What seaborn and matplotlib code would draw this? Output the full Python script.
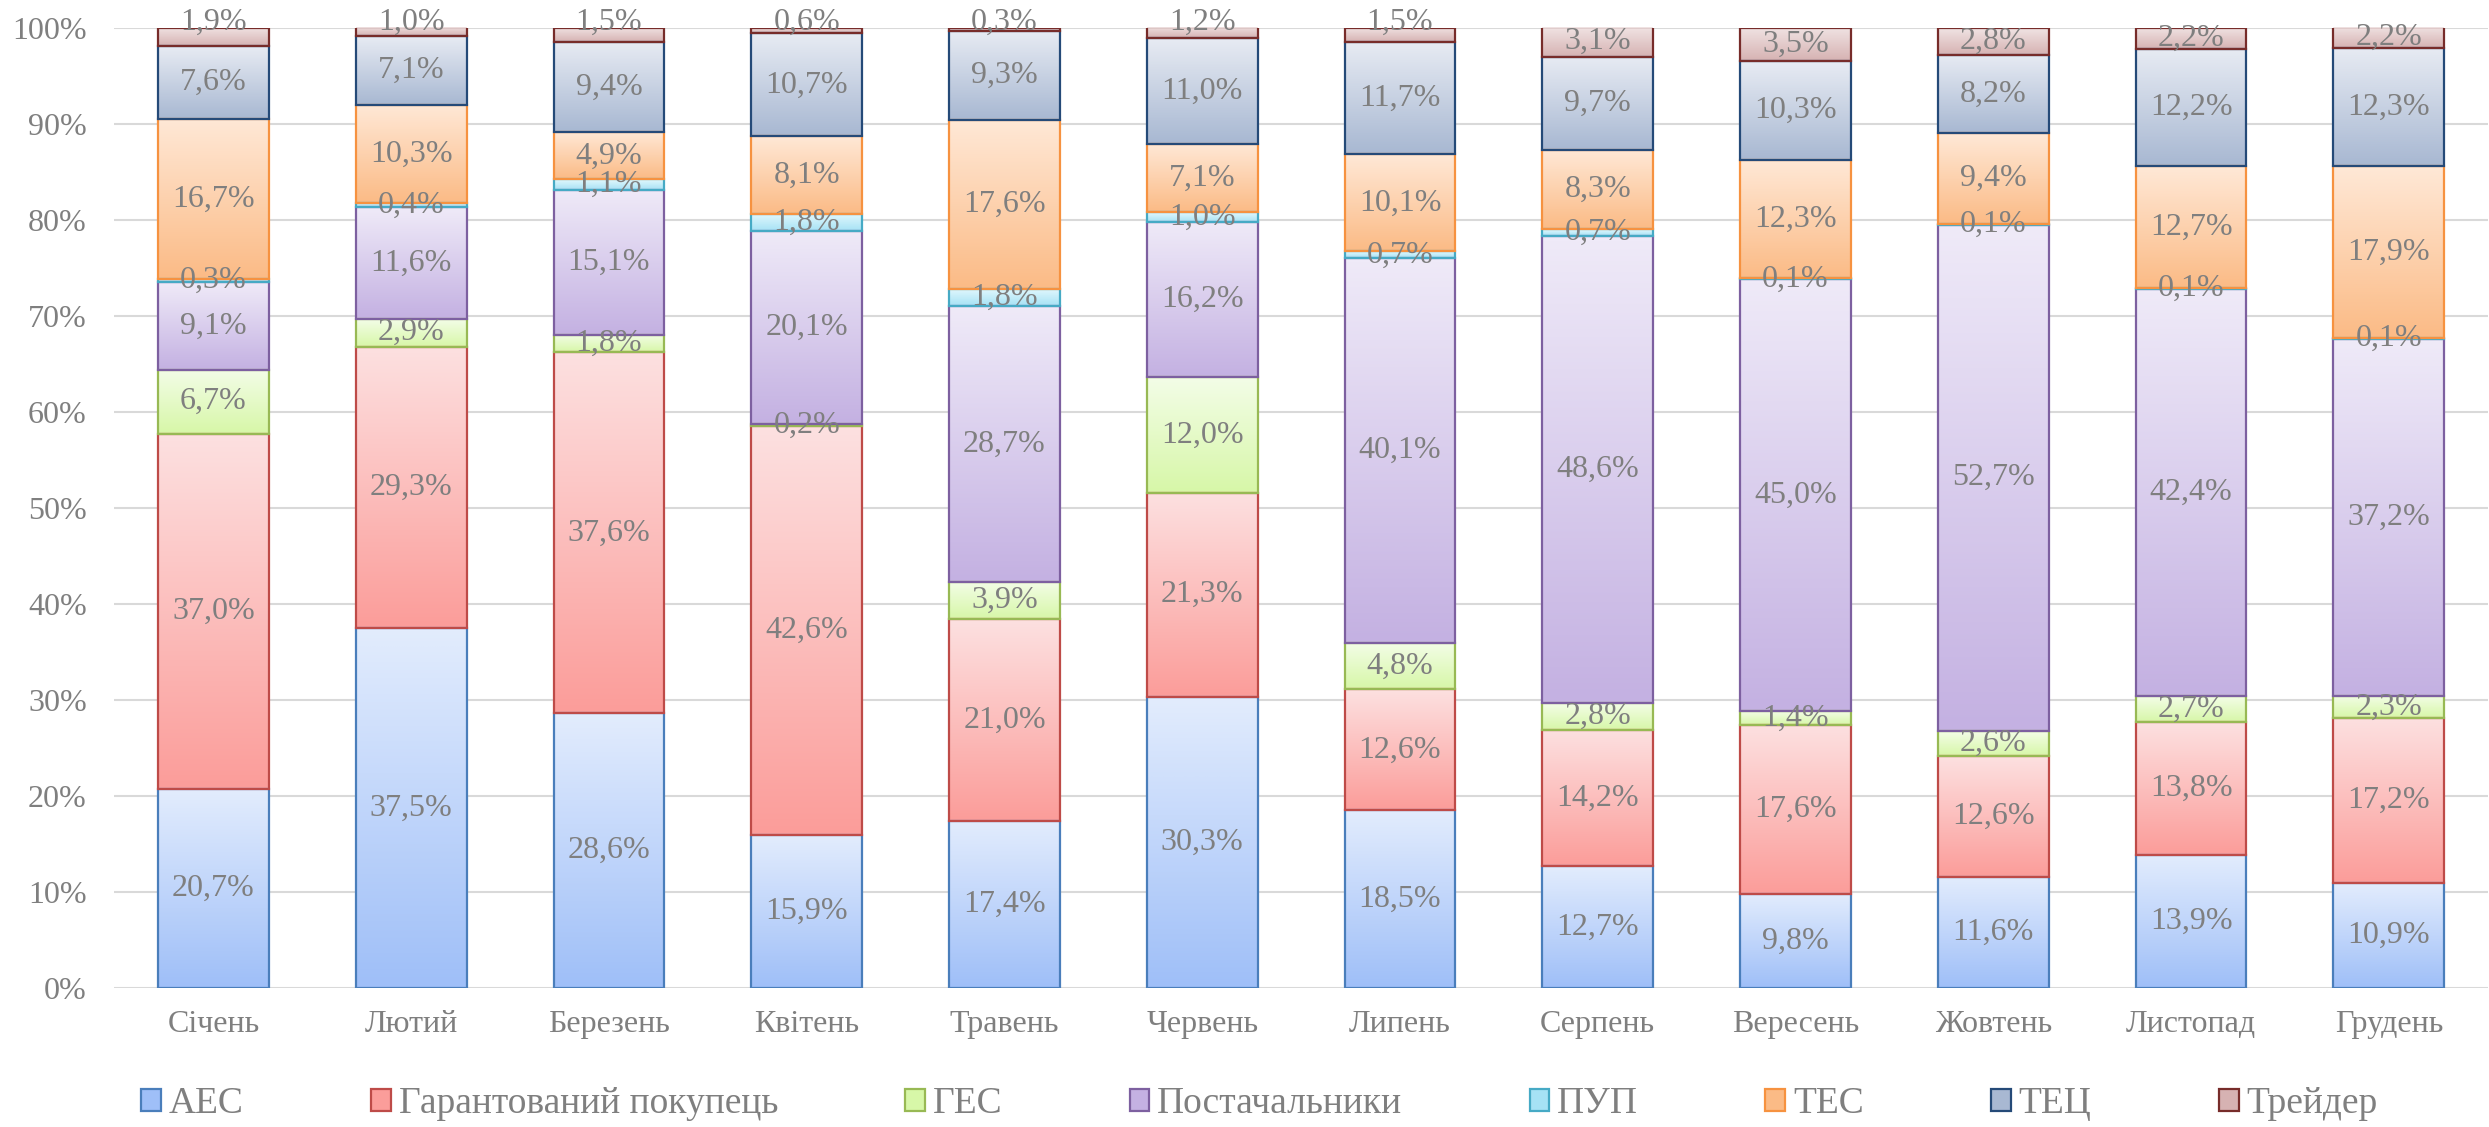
"""Monthly structure of electricity sales by seller type (stacked 100% bars)."""
import matplotlib
matplotlib.use('Agg')
import matplotlib.pyplot as plt
from matplotlib.colors import LinearSegmentedColormap
from matplotlib.patches import Patch
import numpy as np
import seaborn as sns

months = ['Січень', 'Лютий', 'Березень', 'Квітень', 'Травень', 'Червень',
          'Липень', 'Серпень', 'Вересень', 'Жовтень', 'Листопад', 'Грудень']
series_names = ['АЕС', 'Гарантований покупець', 'ГЕС', 'Постачальники',
                'ПУП', 'ТЕС', 'ТЕЦ', 'Трейдер']

aes = [20.7, 37.5, 28.6, 15.9, 17.4, 30.3, 18.5, 12.7, 9.8, 11.6, 13.9, 10.9]
gp = [37.0, 29.3, 37.6, 42.6, 21.0, 21.3, 12.6, 14.2, 17.6, 12.6, 13.8, 17.2]
ges = [6.7, 2.9, 1.8, 0.2, 3.9, 12.0, 4.8, 2.8, 1.4, 2.6, 2.7, 2.3]
postach = [9.1, 11.6, 15.1, 20.1, 28.7, 16.2, 40.1, 48.6, 45.0, 52.7, 42.4, 37.2]
pup = [0.3, 0.4, 1.1, 1.8, 1.8, 1.0, 0.7, 0.7, 0.1, 0.1, 0.1, 0.1]
tes = [16.7, 10.3, 4.9, 8.1, 17.6, 7.1, 10.1, 8.3, 12.3, 9.4, 12.7, 17.9]
tec = [7.6, 7.1, 9.4, 10.7, 9.3, 11.0, 11.7, 9.7, 10.3, 8.2, 12.2, 12.3]
trader = [1.9, 1.0, 1.5, 0.6, 0.3, 1.2, 1.5, 3.1, 3.5, 2.8, 2.2, 2.2]

# (top colour, bottom colour, edge colour) per series - Excel-like gradient fills
styles = [
    ('#e2ecfd', '#9fbff8', '#4a7ebb'),
    ('#fde0e0', '#fb9d9a', '#be4b48'),
    ('#f3fde7', '#d7f7a8', '#98b954'),
    ('#efeaf8', '#c4b1e2', '#7d60a0'),
    ('#e3f8fd', '#a6e2f5', '#46aac5'),
    ('#ffe8d6', '#fbbb86', '#f69240'),
    ('#e7ebf3', '#a8b8d2', '#254a78'),
    ('#f0e3e3', '#d6b2b2', '#772c2a'),
]

all_series = [aes, gp, ges, postach, pup, tes, tec, trader]

sns.set_theme(style='white')
plt.rcParams['font.family'] = ['Liberation Serif', 'DejaVu Serif']
text_color = '#7f7f7f'
fs = 23

fig = plt.figure(figsize=(24.89, 11.27), dpi=100)
ax = fig.add_axes([0.046, 0.1233, 0.9535, 0.8521])

bottom = np.zeros(len(months))
for vals, (top_c, bot_c, edge_c) in zip(all_series, styles):
    sns.barplot(x=months, y=vals, bottom=bottom.copy(), order=months,
                color=bot_c, edgecolor=edge_c, linewidth=1.6, width=0.56,
                errorbar=None, saturation=1, ax=ax)
    bottom += np.array(vals)

ax.set_xlim(-0.5, len(months) - 0.5)
ax.set_ylim(0, 100)

# replace flat fills with vertical gradients clipped to each bar
patches = list(ax.patches)
n = len(months)
for i, (top_c, bot_c, edge_c) in enumerate(styles):
    cmap = LinearSegmentedColormap.from_list(f'g{i}', [bot_c, top_c])
    grad = np.linspace(0, 1, 64).reshape(-1, 1)
    for p in patches[i * n:(i + 1) * n]:
        x0, y0 = p.get_x(), p.get_y()
        w, h = p.get_width(), p.get_height()
        im = ax.imshow(grad, cmap=cmap, origin='lower', aspect='auto',
                       extent=[x0, x0 + w, y0, y0 + h], zorder=1.5,
                       interpolation='bilinear')
        im.set_clip_path(p)
        p.set_facecolor('none')
        p.set_zorder(2)

ax.set_xlim(-0.5, len(months) - 0.5)
ax.set_ylim(0, 100)

# value labels
bottom = np.zeros(len(months))
for k, vals in enumerate(all_series):
    for j, v in enumerate(vals):
        yc = bottom[j] + v / 2
        if k == len(all_series) - 1 and v < 2:
            yc = 100.6
        ax.text(j, yc, f'{v:.1f}%'.replace('.', ','), ha='center', va='center',
                fontsize=fs, color=text_color, zorder=5)
    bottom += np.array(vals)

ax.set_yticks(range(0, 101, 10))
ax.set_yticklabels([f'{t}%' for t in range(0, 101, 10)])
ax.yaxis.grid(True, color='#d9d9d9', linewidth=1.5)
ax.set_axisbelow(True)
for s in ax.spines.values():
    s.set_visible(False)
ax.tick_params(axis='y', length=0, pad=20, labelsize=fs, labelcolor=text_color)
ax.tick_params(axis='x', length=0, pad=16, labelsize=fs, labelcolor=text_color)
ax.set_xlabel('')
ax.set_ylabel('')

handles = [Patch(facecolor=b, edgecolor=e, linewidth=1.6) for (t, b, e) in styles]
fig.legend(handles, series_names, loc='center', bbox_to_anchor=(0.506, 0.0204),
           ncol=8, frameon=False, fontsize=27, labelcolor=text_color,
           handlelength=0.53, handleheight=0.53, handletextpad=0.21,
           columnspacing=3.39)

fig.savefig('out.png', dpi=100)
